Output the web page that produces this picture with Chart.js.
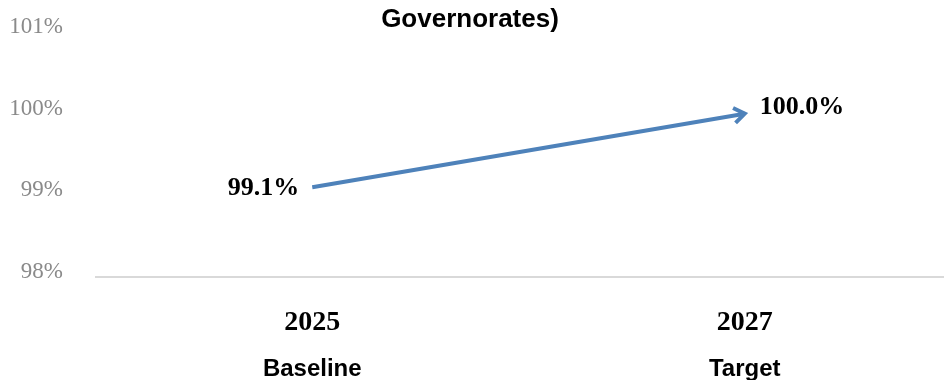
<!DOCTYPE html>
<html>
<head>
<meta charset="utf-8">
<script src="https://cdn.jsdelivr.net/npm/chart.js@4.4.1/dist/chart.umd.min.js"></script>
<style>
html,body{margin:0;padding:0;background:#fff;overflow:hidden;}
#wrap{position:relative;width:961px;height:380px;}
#title{position:absolute;left:0;top:3px;width:940px;text-align:center;
  font:bold 26px "Liberation Sans",Arial,sans-serif;line-height:30px;color:#000;}
</style>
</head>
<body>
<div id="wrap">
<canvas id="chart" width="961" height="380"></canvas>
<div id="title">Governorates)</div>
</div>
<script>
// coverage figures, baseline year vs target year
let years=["2025","2027"];
let stages=["Baseline","Target"];
let coverage=[99.1,100.0];
let yTicks=[98,99,100,101];

let lineColor="#4e82ba";

/* value labels + arrow head at the end of the line */
let arrowLabels={
id:"arrowLabels",
afterDatasetsDraw(chart){
let ctx=chart.ctx;
let pts=chart.getDatasetMeta(0).data;
let a=pts[pts.length-2];
let b=pts[pts.length-1];
let ang=Math.atan2(b.y-a.y,b.x-a.x);
let len=13;
let spread=0.62;

ctx.save();
ctx.strokeStyle=lineColor;
ctx.lineWidth=4;
ctx.lineJoin="miter";
ctx.lineCap="butt";
ctx.beginPath();
ctx.moveTo(b.x-len*Math.cos(ang-spread),b.y-len*Math.sin(ang-spread));
ctx.lineTo(b.x,b.y);
ctx.lineTo(b.x-len*Math.cos(ang+spread),b.y-len*Math.sin(ang+spread));
ctx.stroke();

ctx.fillStyle="#000";
ctx.font="bold 26px 'Liberation Serif','Times New Roman',serif";
ctx.textBaseline="middle";
ctx.textAlign="right";
ctx.fillText(coverage[0].toFixed(1)+"%",pts[0].x-13,pts[0].y+1);
ctx.textAlign="left";
ctx.fillText(coverage[1].toFixed(1)+"%",b.x+15,b.y-6);
ctx.restore();
}
};

new Chart(document.getElementById("chart"),{
type:"line",
data:{
labels:years,
datasets:[{
data:coverage,
borderColor:lineColor,
borderWidth:4,
pointRadius:0,
fill:false,
tension:0
}]
},
options:{
responsive:false,
animation:false,
layout:{padding:{left:9,top:32,right:0,bottom:0}},
plugins:{
legend:{display:false},
tooltip:{enabled:false}
},
scales:{
y:{
min:yTicks[0],
max:yTicks[yTicks.length-1],
afterBuildTicks(scale){
scale.ticks=yTicks.map(v=>({value:v}));
},
afterFit(scale){
scale.width=87;
scale.paddingTop=0;
scale.paddingBottom=0;
},
grid:{display:false,drawTicks:false},
border:{display:false},
ticks:{
padding:33,
labelOffset:-5,
color:"#8a8a8a",
font:{family:"'Liberation Serif','Times New Roman',serif",size:23},
callback:v=>v+"%"
}
},
x:{
offset:true,
afterFit(scale){scale.height=59;},
grid:{display:false,drawTicks:false},
border:{display:true,color:"#d9d9d9",width:2},
ticks:{
padding:32,
color:"#000",
font:{family:"'Liberation Serif','Times New Roman',serif",size:28,weight:"bold",lineHeight:1}
}
},
x2:{
type:"category",
labels:stages,
position:"bottom",
offset:true,
afterFit(scale){scale.height=44;},
grid:{display:false,drawTicks:false},
border:{display:false},
ticks:{
padding:24,
color:"#000",
font:{family:"'Liberation Sans',Arial,sans-serif",size:24,weight:"bold",lineHeight:0.8}
}
}
}
},
plugins:[arrowLabels]
});
</script>
</body>
</html>
